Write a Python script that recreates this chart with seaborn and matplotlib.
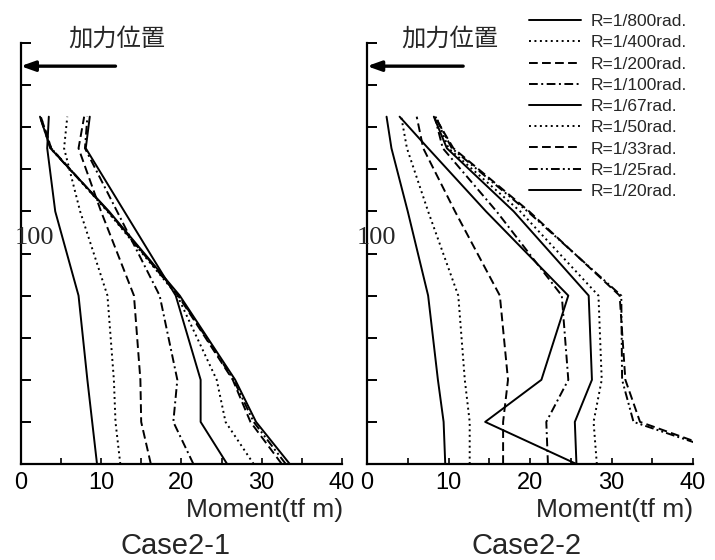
import matplotlib
matplotlib.use("Agg")
import matplotlib.pyplot as plt
import seaborn as sns
import pandas as pd

# ---------------- data ----------------
heights = [0, 20, 40, 80, 120, 150, 165]
drift_labels = ["R=1/800rad.", "R=1/400rad.", "R=1/200rad.", "R=1/100rad.",
                "R=1/67rad.", "R=1/50rad.", "R=1/33rad.", "R=1/25rad.", "R=1/20rad."]

# Case2-1 moments (tf m) at each height
case1_r800 = [9.5, 8.9, 8.3, 7.2, 4.3, 3.3, 3.5]
case1_r400 = [12.4, 11.8, 11.6, 10.8, 7.4, 5.4, 5.8]
case1_r200 = [16.2, 15.0, 14.9, 14.1, 10.0, 7.2, 7.9]
case1_r100 = [21.5, 19.0, 19.5, 17.3, 12.0, 8.0, 8.3]
case1_r67 = [25.7, 22.4, 22.4, 19.3, 12.9, 8.1, 8.6]
case1_r50 = [29.0, 25.5, 24.4, 19.5, 10.8, 3.8, 2.5]
case1_r33 = [32.5, 28.6, 26.4, 19.6, 10.9, 3.8, 2.5]
case1_r25 = [33.0, 29.0, 26.5, 19.7, 10.9, 3.7, 2.4]
case1_r20 = [33.5, 29.3, 26.7, 19.8, 11.0, 3.7, 2.4]

# Case2-2 moments (tf m) at each height
case2_r800 = [9.6, 9.4, 8.7, 7.5, 5.0, 3.0, 2.4]
case2_r400 = [12.6, 12.6, 12.0, 11.2, 7.5, 4.9, 4.2]
case2_r200 = [16.7, 16.7, 17.3, 16.3, 10.8, 6.9, 6.1]
case2_r100 = [22.2, 22.0, 24.7, 23.9, 15.9, 9.3, 8.3]
case2_r67 = [25.7, 25.5, 27.6, 27.2, 18.0, 9.8, 8.2]
case2_r50 = [28.2, 27.8, 28.8, 28.4, 18.8, 10.0, 8.5]
case2_r33 = [48.0, 33.5, 31.7, 31.0, 19.9, 10.6, 8.3]
case2_r25 = [48.0, 32.7, 31.3, 31.2, 19.7, 10.4, 8.4]
case2_r20 = [25.7, 14.5, 21.4, 24.7, 14.6, 7.5, 4.0]

case_titles = ["Case2-1", "Case2-2"]
x_label = "Moment(tf m)"
load_label = "加力位置"
load_height = 189

case1_series = [case1_r800, case1_r400, case1_r200, case1_r100, case1_r67,
                case1_r50, case1_r33, case1_r25, case1_r20]
case2_series = [case2_r800, case2_r400, case2_r200, case2_r100, case2_r67,
                case2_r50, case2_r33, case2_r25, case2_r20]


def long_frame(series):
    rows = []
    for lab, vals in zip(drift_labels, series):
        for h, m in zip(heights, vals):
            rows.append({"R": lab, "height": h, "moment": m})
    return pd.DataFrame(rows)


# ---------------- style ----------------
sns.set_theme(style="white")
plt.rcParams["font.family"] = ["Liberation Sans", "Noto Sans CJK JP", "DejaVu Sans"]

dash_styles = ["", (1.0, 1.8), (4.5, 2.2), (4.5, 1.8, 1.0, 1.8), "",
               (1.0, 1.8), (4.5, 2.2), (4.5, 1.6, 1.0, 1.6, 1.0, 1.6), ""]

W, H = 715, 560
fig = plt.figure(figsize=(W / 100, H / 100), dpi=100)
axL = fig.add_axes([20.7 / W, 1 - 464 / H, (342 - 20.7) / W, (464 - 43) / H])
axR = fig.add_axes([367 / W, 1 - 464 / H, (693 - 367) / W, (464 - 43) / H])

for ax, series, show_leg in [(axL, case1_series, True), (axR, case2_series, False)]:
    df = long_frame(series)
    sns.lineplot(data=df, x="moment", y="height", hue="R", style="R",
                 hue_order=drift_labels, style_order=drift_labels,
                 palette=["black"] * 9, dashes=dash_styles,
                 estimator=None, sort=False, lw=1.4, ax=ax, legend=show_leg)
    ax.set_xlim(0, 40)
    ax.set_ylim(0, 200)
    ax.set_xlabel("")
    ax.set_ylabel("")
    for s in ["top", "right"]:
        ax.spines[s].set_visible(False)
    for s in ["left", "bottom"]:
        ax.spines[s].set_color("black")
        ax.spines[s].set_linewidth(1.6)
    ax.set_xticks(range(0, 41, 10))
    ax.set_xticks(range(0, 41, 5), minor=True)
    ax.tick_params(axis="x", which="both", direction="in", length=4, width=1.2,
                   labelsize=17, pad=6, colors="black", bottom=True)
    ax.set_yticks(range(0, 201, 20))
    ax.set_yticklabels([])
    ax.tick_params(axis="y", direction="in", length=7, width=1.4, left=True, colors="black")
    ax.set_facecolor("white")
    ax.annotate("", xy=(0, load_height), xytext=(11.8, load_height),
                arrowprops=dict(arrowstyle="-|>,head_length=0.7,head_width=0.25",
                                lw=2.4, color="black", shrinkA=0, shrinkB=0),
                annotation_clip=False)

# legend moved to figure
leg = axL.get_legend()
handles = leg.legend_handles
labels = [t.get_text() for t in leg.get_texts()]
leg.remove()
fig.legend(handles, labels, loc="upper left", bbox_to_anchor=(529 / W, 1 - 14 / H),
           frameon=False, fontsize=12.5, handlelength=3.0, handletextpad=0.55,
           labelspacing=0.35, borderpad=0, borderaxespad=0)

# texts
axL.text(1.7, 107.5, "100", family="Liberation Serif", fontsize=19, ha="center", va="center")
axR.text(1.1, 107.5, "100", family="Liberation Serif", fontsize=19, ha="center", va="center")
axL.text(12.0, 202, load_label, family=["Noto Sans CJK JP"], fontsize=17.5, ha="center", va="center")
axR.text(10.2, 202, load_label, family=["Noto Sans CJK JP"], fontsize=17.5, ha="center", va="center")

fig.text(343 / W, 1 - 510 / H, x_label, ha="right", va="center", fontsize=19)
fig.text(693 / W, 1 - 510 / H, x_label, ha="right", va="center", fontsize=19)
fig.text(175 / W, 1 - 546 / H, case_titles[0], ha="center", va="center", fontsize=21)
fig.text(527 / W, 1 - 546 / H, case_titles[1], ha="center", va="center", fontsize=21)

fig.savefig("out.png", dpi=100, facecolor="white")
